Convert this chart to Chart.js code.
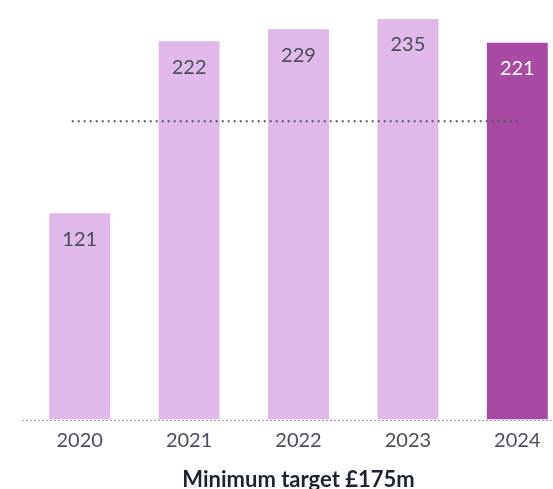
<!DOCTYPE html>
<html>
<head>
<meta charset="utf-8">
<script src="https://cdn.jsdelivr.net/npm/chart.js@4"></script>
<style>
  html, body { margin: 0; padding: 0; background: #fff; overflow: hidden; }
  #wrap { position: relative; width: 572px; height: 495px; }
</style>
</head>
<body>
<div id="wrap"><canvas id="chart"></canvas></div>
<script>
const years = ['2020', '2021', '2022', '2023', '2024'];
const values = [121, 222, 229, 235, 221];
const target = 175;
const titleText = 'Minimum target £175m';

const lightBar = '#dfb9e7';
const darkBar = '#a84aa6';
const barColors = years.map((y, i) => i === years.length - 1 ? darkBar : lightBar);
const labelColors = years.map((y, i) => i === years.length - 1 ? '#ffffff' : '#4a4e58');

// value labels inside the top of each bar
const barLabels = {
  id: 'barLabels',
  afterDatasetsDraw(chart) {
    const ctx = chart.ctx;
    const meta = chart.getDatasetMeta(0);
    ctx.save();
    ctx.font = '20px Lato';
    ctx.textAlign = 'center';
    ctx.textBaseline = 'middle';
    meta.data.forEach((bar, i) => {
      ctx.fillStyle = labelColors[i];
      ctx.fillText(values[i], bar.x, bar.y + 26);
    });
    ctx.restore();
  }
};

// dotted target line + dotted baseline
const guideLines = {
  id: 'guideLines',
  afterDatasetsDraw(chart) {
    const ctx = chart.ctx;
    const x = chart.scales.x;
    const area = chart.chartArea;
    const y = chart.scales.y.getPixelForValue(target);
    ctx.save();
    ctx.strokeStyle = '#555a63';
    ctx.lineWidth = 2;
    ctx.setLineDash([2, 4]);
    ctx.beginPath();
    ctx.moveTo(x.getPixelForValue(0) - 8, y);
    ctx.lineTo(x.getPixelForValue(years.length - 1) + 2, y);
    ctx.stroke();

    const yb = Math.round(chart.scales.y.getPixelForValue(0)) + 0.5;
    ctx.strokeStyle = '#a0a0a0';
    ctx.lineWidth = 1;
    ctx.setLineDash([2, 2]);
    ctx.beginPath();
    ctx.moveTo(area.left - 3, yb);
    ctx.lineTo(area.right, yb);
    ctx.stroke();
    ctx.restore();
  }
};

new Chart(document.getElementById('chart'), {
  type: 'bar',
  data: {
    labels: years,
    datasets: [{
      data: values,
      backgroundColor: barColors,
      categoryPercentage: 1,
      barPercentage: 0.557
    }]
  },
  options: {
    responsive: true,
    maintainAspectRatio: false,
    animation: false,
    layout: { padding: { left: 25, top: 19, right: 0, bottom: 0 } },
    plugins: {
      legend: { display: false },
      tooltip: { enabled: false },
      title: {
        display: true,
        position: 'bottom',
        text: titleText,
        color: '#1c2430',
        font: { family: 'Lato', size: 22, weight: 'bold' },
        padding: { top: 5, bottom: 2 }
      }
    },
    scales: {
      x: {
        grid: { display: false, drawTicks: false },
        border: { display: false },
        ticks: { color: '#4a4e58', font: { family: 'Lato', size: 20 }, padding: 9 }
      },
      y: {
        display: false,
        min: 0,
        max: 235
      }
    }
  },
  plugins: [barLabels, guideLines]
});
</script>
</body>
</html>
